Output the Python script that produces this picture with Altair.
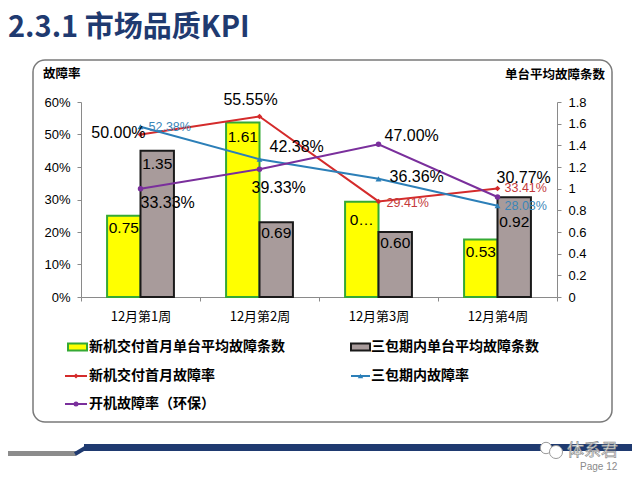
import altair as alt
import pandas as pd

# ---------------- data ----------------
weeks = ["12月第1周", "12月第2周", "12月第3周", "12月第4周"]
new_avg = [0.75, 1.61, 0.88, 0.53]          # 新机交付首月单台平均故障条数
warranty_avg = [1.35, 0.69, 0.60, 0.92]     # 三包期内单台平均故障条数
new_avg_labels = ["0.75", "1.61", "0…", "0.53"]
warranty_avg_labels = ["1.35", "0.69", "0.60", "0.92"]
new_rate = [0.5000, 0.5555, 0.2941, 0.3341]       # 新机交付首月故障率
warranty_rate = [0.5238, 0.4238, 0.3636, 0.2808]  # 三包期内故障率
startup_rate = [0.3333, 0.3933, 0.4700, 0.3077]   # 开机故障率（环保）

S_NEW_AVG = "新机交付首月单台平均故障条数"
S_WAR_AVG = "三包期内单台平均故障条数"
S_NEW_RATE = "新机交付首月故障率"
S_WAR_RATE = "三包期内故障率"
S_START = "开机故障率（环保）"

bars_df = pd.DataFrame(
    {"week": weeks + weeks,
     "series": [S_NEW_AVG] * 4 + [S_WAR_AVG] * 4,
     "value": new_avg + warranty_avg,
     "label": new_avg_labels + warranty_avg_labels,
     "idx": list(range(4)) * 2}
)
rates_df = pd.DataFrame(
    {"week": weeks * 3,
     "series": [S_NEW_RATE] * 4 + [S_WAR_RATE] * 4 + [S_START] * 4,
     "rate": new_rate + warranty_rate + startup_rate,
     "idx": list(range(4)) * 3}
)
one = pd.DataFrame({"a": [0]})

# ---------------- styles ----------------
CJK = "Noto Sans CJK SC"
NUM = "Liberation Sans"
GRAY = "#8a8a8a"
NAVY = "#1f3a70"
RED = "#d42b2b"
BLUE = "#2c7fb8"
PURPLE = "#7a2f9c"
YELLOW = "#ffff00"
GREEN = "#35a935"
MAUVE = "#a89b9b"

x_enc = alt.X(
    "week:N", sort=weeks,
    scale=alt.Scale(paddingInner=0, paddingOuter=0),
    axis=alt.Axis(title=None, labelAngle=0, tickBand="extent", tickSize=4,
                  labelPadding=9, domainColor=GRAY, tickColor=GRAY,
                  labelFont=CJK, labelFontSize=13, labelColor="black", grid=False),
)
xoff_enc = alt.XOffset("series:N", sort=[S_NEW_AVG, S_WAR_AVG],
                       scale=alt.Scale(domain=[S_NEW_AVG, S_WAR_AVG],
                                       paddingInner=0, paddingOuter=0.78))
y_bar = alt.Y(
    "value:Q",
    scale=alt.Scale(domain=[0, 1.8], nice=False),
    axis=alt.Axis(orient="right", title=None, grid=False,
                  values=[0, 0.2, 0.4, 0.6, 0.8, 1, 1.2, 1.4, 1.6, 1.8],
                  format=".1~f", tickSize=4, labelPadding=7,
                  domainColor=GRAY, tickColor=GRAY, labelFont=NUM,
                  labelFontSize=13, labelColor="black"),
)
y_rate = alt.Y(
    "rate:Q",
    scale=alt.Scale(domain=[0, 0.6], nice=False),
    axis=alt.Axis(orient="left", title=None, grid=False,
                  values=[0, 0.1, 0.2, 0.3, 0.4, 0.5, 0.6],
                  format=".0%", tickSize=4, labelPadding=7,
                  domainColor=GRAY, tickColor=GRAY, labelFont=NUM,
                  labelFontSize=13, labelColor="black"),
)

# ---------------- bars ----------------
bars = alt.Chart(bars_df).mark_bar(strokeWidth=2).encode(
    x=x_enc, xOffset=xoff_enc, y=y_bar,
    color=alt.Color("series:N", scale=alt.Scale(domain=[S_NEW_AVG, S_WAR_AVG],
                                                range=[YELLOW, MAUVE]), legend=None),
    stroke=alt.Stroke("series:N", scale=alt.Scale(domain=[S_NEW_AVG, S_WAR_AVG],
                                                  range=[GREEN, "#1a1a1a"]), legend=None),
)

bar_label_dy = {S_NEW_AVG: [12, 14, 18, 12], S_WAR_AVG: [13, 11, 11, 25]}
bar_label_layers = []
for s, dys in bar_label_dy.items():
    for i, d in enumerate(dys):
        bar_label_layers.append(
            alt.Chart(bars_df)
            .transform_filter((alt.datum.series == s) & (alt.datum.idx == i))
            .mark_text(dy=d, baseline="middle", align="center", font=NUM,
                       fontSize=15.5, color="black")
            .encode(x=x_enc, xOffset=xoff_enc, y=y_bar, text="label:N")
        )
bar_group = alt.layer(bars, *bar_label_layers)

# ---------------- lines ----------------
line_styles = [(S_NEW_RATE, RED, "diamond", 30),
               (S_WAR_RATE, BLUE, "triangle-up", 35),
               (S_START, PURPLE, "circle", 30)]
line_layers = []
for s, c, shp, sz in line_styles:
    base = alt.Chart(rates_df).transform_filter(alt.datum.series == s)
    line_layers.append(base.mark_line(color=c, strokeWidth=2).encode(x=x_enc, y=y_rate))
    line_layers.append(base.mark_point(color=c, filled=True, shape=shp, size=sz, opacity=1)
                       .encode(x=x_enc, y=y_rate))

BIG = (16, "black")
SMALL_RED = (12.5, "#c43a3a")
SMALL_BLUE = (12.5, "#3b86b8")
# (series, week index, align, dx, dy, style)
label_specs = [
    (S_NEW_RATE, 0, "right", 5, -2, BIG),
    (S_WAR_RATE, 0, "left", 8, 0, SMALL_BLUE),
    (S_NEW_RATE, 1, "center", -9, -16, BIG),
    (S_WAR_RATE, 1, "left", 10, -12, BIG),
    (S_START, 1, "left", -8, 19, BIG),
    (S_START, 0, "left", 0, 14, BIG),
    (S_NEW_RATE, 2, "left", 8, 2, SMALL_RED),
    (S_START, 2, "left", 6, -8, BIG),
    (S_WAR_RATE, 2, "left", 11, -2, BIG),
    (S_START, 3, "left", -1, -19, BIG),
    (S_NEW_RATE, 3, "left", 7, 0, SMALL_RED),
    (S_WAR_RATE, 3, "left", 7, 0, SMALL_BLUE),
]
label_layers = []
for s, i, al, dx, dy, (fs, col) in label_specs:
    label_layers.append(
        alt.Chart(rates_df)
        .transform_filter((alt.datum.series == s) & (alt.datum.idx == i))
        .mark_text(align=al, baseline="middle", dx=dx, dy=dy, font=NUM,
                   fontSize=fs, color=col)
        .encode(x=x_enc, y=y_rate, text=alt.Text("rate:Q", format=".2%"))
    )
line_group = alt.layer(*line_layers, *label_layers)

# ---------------- decorations (slide frame, titles, legend) ----------------
def txt(x, y, s, size, color="black", weight="normal", align="left", font=CJK, **kw):
    return alt.Chart(one).mark_text(align=align, baseline="middle", fontSize=size,
                                    color=color, fontWeight=weight, font=font, **kw
                                    ).encode(x=alt.value(x), y=alt.value(y), text=alt.value(s))

def rect(x, x2, y, y2, **kw):
    return alt.Chart(one).mark_rect(**kw).encode(
        x=alt.value(x), x2=alt.value(x2), y=alt.value(y), y2=alt.value(y2))

def rule(x, x2, y, y2, **kw):
    return alt.Chart(one).mark_rule(**kw).encode(
        x=alt.value(x), x2=alt.value(x2), y=alt.value(y), y2=alt.value(y2))

def pt(x, y, **kw):
    return alt.Chart(one).mark_point(**kw).encode(x=alt.value(x), y=alt.value(y))

deco = [
    rect(-48, 531, -42, 320, filled=False, stroke="#7a7a7a", strokeWidth=1.5, cornerRadius=12),
    txt(-73, -74, "2.3.1  市场品质KPI", 29, color=NAVY, weight="bold"),
    txt(-38, -28, "故障率", 12.5, weight="bold"),
    txt(524, -27, "单台平均故障条数", 12.5, weight="bold", align="right"),
    # legend row 1
    rect(-13, 6, 241.5, 248.5, fill=YELLOW, stroke=GREEN, strokeWidth=2),
    txt(8, 245, S_NEW_AVG, 14, weight="bold"),
    rect(270, 289, 241.5, 248.5, fill=MAUVE, stroke="#1a1a1a", strokeWidth=2),
    txt(290, 245, S_WAR_AVG, 14, weight="bold"),
    # legend row 2
    rule(-16, 6, 274, 274, color=RED, strokeWidth=2),
    pt(-5, 274, shape="diamond", filled=True, color=RED, size=25, opacity=1),
    txt(8, 274, S_NEW_RATE, 14, weight="bold"),
    rule(270, 289, 274, 274, color=BLUE, strokeWidth=2),
    pt(279.5, 274, shape="triangle-up", filled=True, color=BLUE, size=30, opacity=1),
    txt(290, 274, S_WAR_RATE, 14, weight="bold"),
    # legend row 3
    rule(-16, 6, 302, 302, color=PURPLE, strokeWidth=2),
    pt(-5, 302, shape="circle", filled=True, color=PURPLE, size=25, opacity=1),
    txt(8, 302, S_START, 14, weight="bold"),
    # bottom strip
    rect(-73, -5, 349, 354, fill="#8c8c8c"),
    rule(-6, 5, 352, 345.5, color=NAVY, strokeWidth=4),
    rect(3, 560, 342, 349, fill=NAVY),
    pt(465, 346, shape="circle", filled=True, fill="white", stroke="#9a9a9a",
       strokeWidth=1, size=130, opacity=1),
    pt(475, 350, shape="circle", filled=True, fill="white", stroke="#9a9a9a",
       strokeWidth=1, size=170, opacity=1),
    txt(486, 349, "体系君", 17, color="#eeeeee", stroke="#8a8a8a", strokeWidth=0.6),
    txt(499, 365, "Page 12", 10, color="#8a8a8a", font=NUM),
]
deco_group = alt.layer(*deco)

chart = (
    alt.layer(deco_group, bar_group, line_group)
    .resolve_scale(y="independent")
    .properties(width=476, height=195,
                padding={"left": 73, "top": 94, "right": 75, "bottom": 175},
                autosize=alt.AutoSizeParams(type="none"),
                background="white")
    .configure_view(strokeWidth=0)
)

chart.save("out.html", embed_options={"renderer": "svg", "actions": False})
